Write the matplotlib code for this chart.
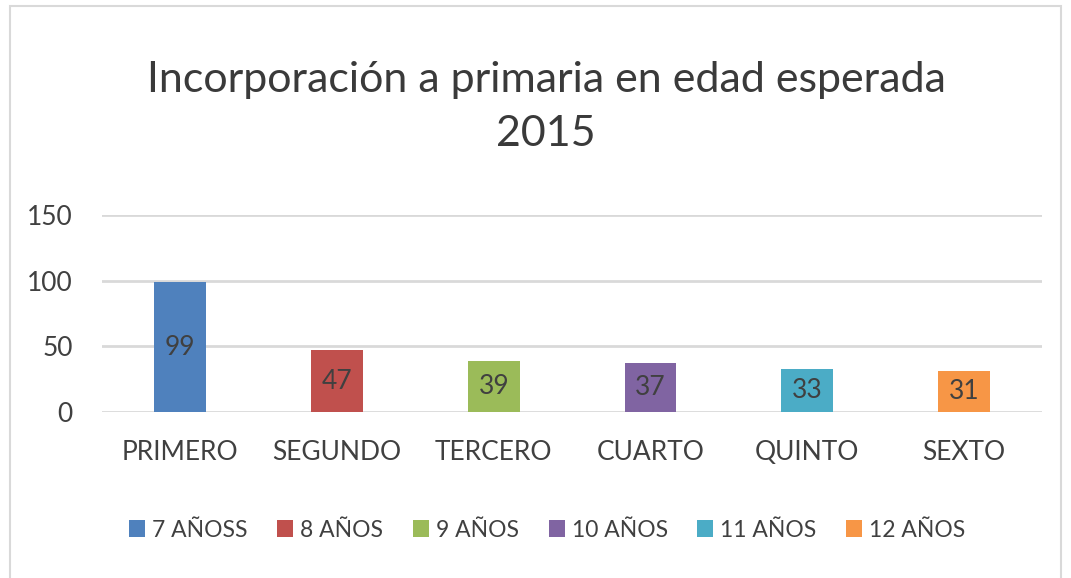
import matplotlib.pyplot as plt
from matplotlib.patches import Rectangle

cursos = ['PRIMERO', 'SEGUNDO', 'TERCERO', 'CUARTO', 'QUINTO', 'SEXTO']
edades = ['7 AÑOSS', '8 AÑOS', '9 AÑOS', '10 AÑOS', '11 AÑOS', '12 AÑOS']
valores = [99, 47, 39, 37, 33, 31]
colores = ['#4F81BD', '#C0504D', '#9BBB59', '#8064A2', '#4BACC6', '#F79646']

plt.rcParams['font.family'] = ['Lato', 'DejaVu Sans']
texto = '#404040'

fig = plt.figure(figsize=(10.71, 5.78), dpi=100)
ax = fig.add_axes([0.0952, 0.287, 0.878, 0.341])

x = range(len(cursos))
for i in x:
    ax.bar(i, valores[i], width=0.33, color=colores[i], label=edades[i], zorder=3)
    ax.text(i, valores[i] / 2, str(valores[i]), ha='center', va='center',
            fontsize=19, color=texto, zorder=4)

ax.set_xlim(-0.5, len(cursos) - 0.5)
ax.set_ylim(0, 150)
ax.set_yticks([0, 50, 100, 150])
ax.set_xticks(list(x))
ax.set_xticklabels(cursos)
ax.tick_params(axis='both', length=0, labelsize=19, colors=texto)
ax.tick_params(axis='x', pad=20)
ax.tick_params(axis='y', pad=21)
ax.grid(axis='y', color='#D9D9D9', linewidth=2, zorder=0)
for s in ax.spines.values():
    s.set_visible(False)

fig.text(0.51, 0.815, 'Incorporación a primaria en edad esperada\n2015',
         ha='center', va='center', fontsize=31, color='#3a3a3a', linespacing=1.5)

fig.legend(loc='center', bbox_to_anchor=(0.511, 0.083), ncol=6, frameon=False,
           fontsize=16.5, labelcolor=texto, handlelength=0.7, handleheight=0.7,
           handletextpad=0.3, columnspacing=1.3)

fig.patches.append(Rectangle((0.009, -0.01), 0.982, 1.0, transform=fig.transFigure,
                             fill=False, edgecolor='#D9D9D9', linewidth=1.5))

fig.savefig('out.png')
